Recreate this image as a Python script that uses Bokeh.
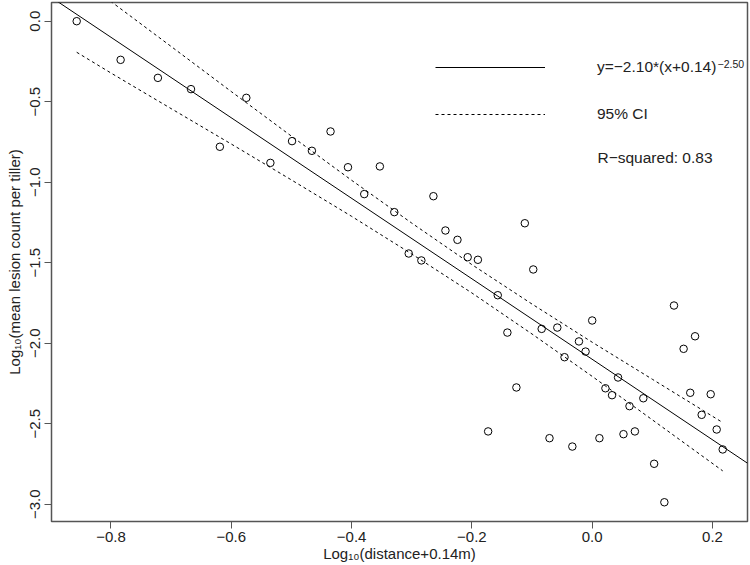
from bokeh.plotting import figure
from bokeh.models import Legend, LegendItem, Label, FixedTicker, Range1d
from bokeh.embed import file_html
from bokeh.resources import INLINE

# ---- data ----
log_distance = [-0.857, -0.784, -0.722, -0.667, -0.575, -0.619, -0.535, -0.499, -0.466, -0.435,
                -0.406, -0.353, -0.379, -0.329, -0.264, -0.244, -0.224, -0.305, -0.284, -0.207,
                -0.190, -0.112, -0.098, -0.157, 0.136, 0.000, -0.141, -0.084, -0.058, 0.171,
                -0.022, -0.011, 0.152, -0.046, 0.043, -0.126, 0.022, 0.033, 0.163, 0.197,
                0.085, 0.062, 0.182, 0.207, -0.173, 0.071, 0.052, -0.071, 0.012, 0.217,
                -0.033, 0.103, 0.120]
log_lesions = [0.000, -0.240, -0.352, -0.422, -0.476, -0.780, -0.880, -0.745, -0.805, -0.685,
               -0.907, -0.902, -1.074, -1.186, -1.087, -1.300, -1.358, -1.443, -1.486, -1.466,
               -1.482, -1.255, -1.542, -1.702, -1.766, -1.859, -1.934, -1.911, -1.903, -1.957,
               -1.989, -2.052, -2.035, -2.087, -2.213, -2.275, -2.280, -2.323, -2.308, -2.317,
               -2.342, -2.391, -2.445, -2.536, -2.548, -2.548, -2.565, -2.590, -2.590, -2.660,
               -2.642, -2.749, -2.988]

fit_intercept = -2.10
fit_slope = -2.50

ci_x = [-0.857, -0.8, -0.7, -0.6, -0.5, -0.4, -0.3, -0.2, -0.1, 0.0, 0.1, 0.217]
ci_upper = [0.278, 0.122, -0.157, -0.437, -0.714, -0.988, -1.254, -1.512, -1.757, -1.994, -2.224, -2.493]
ci_lower = [-0.193, -0.322, -0.543, -0.763, -0.986, -1.212, -1.446, -1.688, -1.943, -2.206, -2.476, -2.793]

x_ticks = [-0.8, -0.6, -0.4, -0.2, 0.0, 0.2]
x_tick_labels = ["\u22120.8", "\u22120.6", "\u22120.4", "\u22120.2", "0.0", "0.2"]
y_ticks = [0.0, -0.5, -1.0, -1.5, -2.0, -2.5, -3.0]
y_tick_labels = ["0.0", "\u22120.5", "\u22121.0", "\u22121.5", "\u22122.0", "\u22122.5", "\u22123.0"]

fit_label = "y=\u22122.10*(x+0.14)"
fit_exponent = "\u22122.50"
ci_label = "95% CI"
r2_label = "R\u2212squared: 0.83"

FONT = "Liberation Sans"
INK = "#222222"

x_lo, x_hi = -0.8989, 0.2582
y_lo, y_hi = -3.1075, 0.1161

p = figure(width=750, height=565, x_range=Range1d(x_lo, x_hi), y_range=Range1d(y_lo, y_hi),
           output_backend="svg", toolbar_location=None,
           min_border_left=51, min_border_right=3, min_border_top=2, min_border_bottom=44)
p.background_fill_color = "white"
p.border_fill_color = "white"
p.outline_line_color = "#555555"
p.outline_line_width = 1.5
p.xgrid.grid_line_color = None
p.ygrid.grid_line_color = None

for ax in (p.xaxis[0], p.yaxis[0]):
    ax.axis_line_color = None
    ax.major_tick_line_color = "#555555"
    ax.major_tick_line_width = 1
    ax.major_tick_in = 0
    ax.major_tick_out = 7
    ax.minor_tick_line_color = None
    ax.major_label_text_font = FONT
    ax.major_label_text_font_size = "15px"
    ax.major_label_text_color = INK
    ax.axis_label_text_font = FONT
    ax.axis_label_text_font_size = "15px"
    ax.axis_label_text_font_style = "normal"
    ax.axis_label_text_color = INK
    ax.axis_label_standoff = 0
    ax.major_label_standoff = 3

p.yaxis.major_label_standoff = 4
p.yaxis.axis_label_standoff = 5

p.xaxis.ticker = FixedTicker(ticks=x_ticks)
p.xaxis.major_label_overrides = dict(zip(x_ticks, x_tick_labels))
p.yaxis.ticker = FixedTicker(ticks=y_ticks)
p.yaxis.major_label_overrides = dict(zip(y_ticks, y_tick_labels))
p.yaxis.major_label_orientation = "vertical"
p.xaxis.axis_label = "Log\u2081\u2080(distance+0.14m)"
p.yaxis.axis_label = "Log\u2081\u2080(mean lesion count per tiller)"

# fitted line across the whole plotting region
fit_x = [x_lo, x_hi]
fit_y = [fit_intercept + fit_slope * v for v in fit_x]
r_fit = p.line(fit_x, fit_y, line_color="black", line_width=1)

r_up = p.line(ci_x, ci_upper, line_color="black", line_width=1, line_dash="3 3")
p.line(ci_x, ci_lower, line_color="black", line_width=1, line_dash="3 3")

p.scatter(log_distance, log_lesions, marker="circle", size=7.5,
          fill_color=None, line_color="black", line_width=1)

# legend: location is the bottom-left corner of the legend box, relative to the frame
legend = Legend(items=[LegendItem(label=fit_label, renderers=[r_fit]),
                       LegendItem(label=ci_label, renderers=[r_up])],
                location=(384, 397), glyph_width=110, glyph_height=20, label_height=20,
                label_standoff=52, spacing=27, padding=0, margin=0,
                border_line_alpha=0, background_fill_alpha=0,
                label_text_font=FONT, label_text_font_size="15.5px", label_text_color=INK)
p.add_layout(legend)

p.add_layout(Label(x=666, y=458, x_units="screen", y_units="screen", text=fit_exponent,
                   text_font=FONT, text_font_size="10.5px", text_color=INK,
                   text_baseline="middle", text_align="left"))
p.add_layout(Label(x=546, y=364, x_units="screen", y_units="screen", text=r2_label,
                   text_font=FONT, text_font_size="15.5px", text_color=INK,
                   text_baseline="middle", text_align="left"))

open("out.html", "w").write(file_html(p, INLINE))
